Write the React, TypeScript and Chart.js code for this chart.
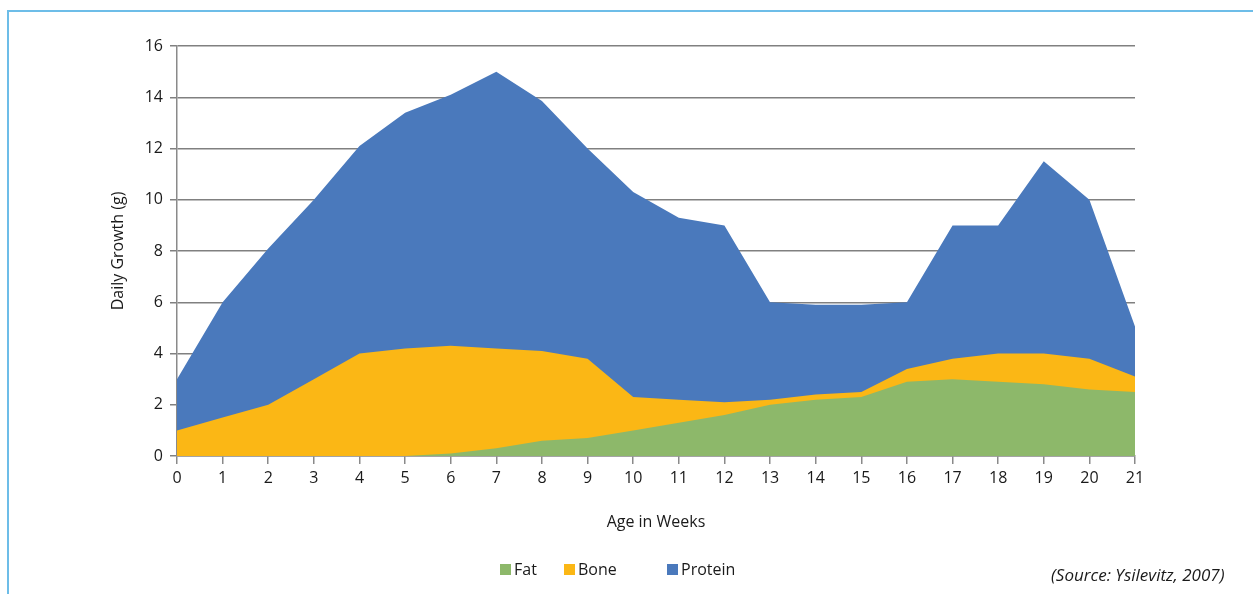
import React, { useEffect, useRef } from "react";
import { Chart, registerables } from "chart.js";

Chart.register(...registerables);

const weeks = ["0","1","2","3","4","5","6","7","8","9","10","11","12","13","14","15","16","17","18","19","20","21"];
// Visible upper edge of each coloured band (g/day)
const fatTop = [0, 0, 0, 0, 0, 0, 0.1, 0.3, 0.6, 0.7, 1.0, 1.3, 1.6, 2.0, 2.2, 2.3, 2.9, 3.0, 2.9, 2.8, 2.6, 2.5];
const boneTop = [1.0, 1.5, 2.0, 3.0, 4.0, 4.2, 4.3, 4.2, 4.1, 3.8, 2.3, 2.2, 2.1, 2.2, 2.4, 2.5, 3.4, 3.8, 4.0, 4.0, 3.8, 3.1];
const proteinTop = [3.0, 6.0, 8.1, 10.0, 12.1, 13.4, 14.1, 15.0, 13.85, 12.0, 10.3, 9.3, 9.0, 6.0, 5.9, 5.9, 6.0, 9.0, 9.0, 11.5, 10.0, 5.05];
const yTicks = [0, 2, 4, 6, 8, 10, 12, 14, 16];

const FAT = "#8db86a";
const BONE = "#fbb715";
const PROTEIN = "#4a79bc";
const FONT = "'Open Sans', sans-serif";

export default function App() {
  const ref = useRef<HTMLCanvasElement | null>(null);

  useEffect(() => {
    if (!ref.current) return;
    const mk = (label: string, data: number[], color: string) => ({
      label,
      data,
      backgroundColor: color,
      borderColor: color,
      borderWidth: 0,
      pointRadius: 0,
      fill: "origin",
      tension: 0,
    });
    const chart = new Chart(ref.current, {
      type: "line",
      data: {
        labels: weeks,
        datasets: [
          mk("Fat", fatTop, FAT),
          mk("Bone", boneTop, BONE),
          mk("Protein", proteinTop, PROTEIN),
        ],
      },
      options: {
        animation: false,
        responsive: false,
        maintainAspectRatio: false,
        layout: { padding: { left: 100, right: 118, top: 46, bottom: 58 } },
        plugins: {
          legend: { display: false },
          tooltip: { enabled: false },
        },
        scales: {
          x: {
            offset: false,
            afterFit: (s: any) => { s.height = 80; },
            grid: {
              display: true,
              drawOnChartArea: false,
              drawTicks: true,
              tickLength: 8,
              color: "#8a8a8a",
              lineWidth: 1.5,
            },
            border: { display: true, color: "#8a8a8a", width: 1.5 },
            ticks: {
              color: "#1a1a1a",
              font: { family: FONT, size: 16 },
              padding: 5,
              maxRotation: 0,
              autoSkip: false,
            },
            title: {
              display: true,
              text: "Age in Weeks",
              color: "#1a1a1a",
              font: { family: FONT, size: 16 },
              padding: { top: 0, bottom: 4 },
            },
          },
          y: {
            min: 0,
            max: 16,
            afterFit: (s: any) => { s.width = 77; },
            afterBuildTicks: (s: any) => { s.ticks = yTicks.map((v) => ({ value: v })); },
            grid: {
              color: "#808080",
              lineWidth: 1.5,
              tickLength: 7,
              drawTicks: true,
            },
            border: { display: true, color: "#8a8a8a", width: 1.5 },
            ticks: {
              color: "#1a1a1a",
              font: { family: FONT, size: 16 },
              padding: 7,
            },
            title: {
              display: true,
              text: "Daily Growth (g)",
              color: "#1a1a1a",
              font: { family: FONT, size: 16 },
              padding: { top: 9, bottom: 0 },
            },
          },
        },
      },
    });
    return () => chart.destroy();
  }, []);

  const legendItem = (left: number, color: string, text: string) => (
    <div style={{ position: "absolute", left, top: 558, display: "flex", alignItems: "center", fontFamily: FONT, fontSize: 16, color: "#1a1a1a" }}>
      <span style={{ display: "inline-block", width: 11, height: 11, background: color, marginRight: 3 }} />
      <span>{text}</span>
    </div>
  );

  return (
    <div style={{ position: "fixed", left: 0, top: 0, width: 1253, height: 594, background: "#fff", overflow: "hidden" }}>
      <div style={{ position: "absolute", left: 7, top: 10, width: 1260, height: 600, borderTop: "2px solid #6dbde8", borderLeft: "2px solid #6dbde8" }} />
      <canvas ref={ref} width={1253} height={594} style={{ position: "absolute", left: 0, top: 0, width: 1253, height: 594 }} />
      {legendItem(500, FAT, "Fat")}
      {legendItem(564, BONE, "Bone")}
      {legendItem(667, PROTEIN, "Protein")}
      <div style={{ position: "absolute", left: 1051, top: 563, fontFamily: FONT, fontSize: 17, fontStyle: "italic", color: "#1a1a1a", whiteSpace: "nowrap" }}>
        (Source: Ysilevitz, 2007)
      </div>
    </div>
  );
}
